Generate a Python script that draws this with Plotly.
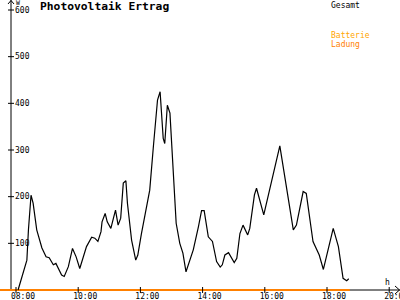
import plotly.graph_objects as go

# ---- data ----
times = ["08:04","08:21","08:24","08:29","08:33","08:40","08:50","08:58","09:04","09:12",
         "09:17","09:28","09:33","09:41","09:49","09:56","10:03","10:08","10:16","10:26",
         "10:32","10:38","10:44","10:46","10:52","10:56","11:03","11:08","11:12","11:17",
         "11:22","11:27","11:32","11:35","11:43","11:51","11:55","12:02","12:09","12:18",
         "12:25","12:33","12:38","12:41","12:44","12:47","12:52","12:57","13:03","13:09",
         "13:16","13:22","13:28","13:36","13:42","13:52","13:58","14:03","14:11","14:19",
         "14:27","14:34","14:38","14:43","14:50","15:01","15:06","15:12","15:18","15:27",
         "15:31","15:40","15:44","15:58","16:29","16:55","17:01","17:14","17:20","17:33",
         "17:40","17:45","17:53","18:02","18:12","18:22","18:31","18:38","18:42"]
gesamt = [0,64,129,203,186,129,90,71,69,54,
          57,32,29,50,89,71,46,64,93,113,
          111,104,125,146,164,146,132,154,171,139,
          154,229,234,186,107,64,75,121,164,214,
          307,407,425,371,325,314,396,379,271,143,
          100,79,39,64,86,136,170,170,114,104,
          61,49,54,75,80,59,68,121,139,118,
          132,204,218,161,309,129,139,211,207,104,
          89,75,44,86,132,93,25,20,24]
batt_times = ["07:29", "18:44"]
batt_values = [0, 0]

x_tick_hours = [8, 10, 12, 14, 16, 18, 20]
x_tick_text = ["08:00", "10:00", "12:00", "14:00", "16:00", "18:00", "20:00"]
y_ticks = [100, 200, 300, 400, 500, 600]

def hours(s):
    hh, mm = s.split(":")
    return int(hh) + int(mm) / 60.0

W, H = 400, 300
PX_PER_HOUR = 31.1
X0_PX = 16          # pixel of 08:00
Y0_PX = 290         # pixel of value 0
PX_PER_UNIT = 280 / 600
AXIS_X_PX = 11

xmin = 8 - X0_PX / PX_PER_HOUR
xmax = 8 + (W - X0_PX) / PX_PER_HOUR
ymin = -(H - Y0_PX) / PX_PER_UNIT
ymax = Y0_PX / PX_PER_UNIT
y_axis_x = 8 + (AXIS_X_PX - X0_PX) / PX_PER_HOUR

MONO = "DejaVu Sans Mono"
ORANGE = "#ff8000"

fig = go.Figure()
fig.add_trace(go.Scatter(x=[hours(t) for t in batt_times], y=batt_values, mode="lines",
                         line=dict(color=ORANGE, width=2), name="Batterie Ladung",
                         showlegend=False))
fig.add_trace(go.Scatter(x=[hours(t) for t in times], y=gesamt, mode="lines",
                         line=dict(color="black", width=1.2), name="Gesamt",
                         showlegend=False))

shapes = []
# axis lines
shapes.append(dict(type="line", xref="x", yref="y", x0=y_axis_x, x1=y_axis_x, y0=0, y1=ymax,
                   line=dict(color="black", width=1), layer="below"))
shapes.append(dict(type="line", xref="x", yref="y", x0=y_axis_x, x1=xmax, y0=0, y1=0,
                   line=dict(color="black", width=1), layer="below"))
# cross tick marks
for hv in x_tick_hours:
    shapes.append(dict(type="line", xref="x", yref="y", ysizemode="pixel", yanchor=0,
                       x0=hv, x1=hv, y0=-3, y1=3, line=dict(color="black", width=1)))
for yv in y_ticks:
    shapes.append(dict(type="line", xref="x", yref="y", xsizemode="pixel", xanchor=y_axis_x,
                       x0=-3, x1=3, y0=yv, y1=yv, line=dict(color="black", width=1)))

def px(xp, yp):
    return f"{xp / W:.5f},{1 - yp / H:.5f}"

# arrow heads
shapes.append(dict(type="path", xref="paper", yref="paper",
                   path=f"M{px(AXIS_X_PX - 3, 4)} L{px(AXIS_X_PX, 0.5)} L{px(AXIS_X_PX + 3, 4)}",
                   line=dict(color="black", width=1)))
shapes.append(dict(type="path", xref="paper", yref="paper",
                   path=f"M{px(395, Y0_PX - 4)} L{px(399.5, Y0_PX)} L{px(395, Y0_PX + 4)}",
                   line=dict(color="black", width=1)))

annotations = [
    dict(text="<b>Photovoltaik Ertrag</b>", xref="paper", yref="paper", x=38 / W, y=1 - 7 / H,
         xanchor="left", yanchor="middle", showarrow=False,
         font=dict(family=MONO, size=11.3, color="black")),
    dict(text="W", xref="paper", yref="paper", x=14 / W, y=1 - 3 / H,
         xanchor="left", yanchor="middle", showarrow=False,
         font=dict(family=MONO, size=6.5, color="black")),
    dict(text="Gesamt", xref="paper", yref="paper", x=329 / W, y=1 - 5 / H,
         xanchor="left", yanchor="middle", showarrow=False,
         font=dict(family=MONO, size=8, color="black")),
    dict(text="Batterie", xref="paper", yref="paper", x=329 / W, y=1 - 35.5 / H,
         xanchor="left", yanchor="middle", showarrow=False,
         font=dict(family=MONO, size=8, color="#ffa500")),
    dict(text="Ladung", xref="paper", yref="paper", x=329 / W, y=1 - 44 / H,
         xanchor="left", yanchor="middle", showarrow=False,
         font=dict(family=MONO, size=8, color=ORANGE)),
    dict(text="h", xref="paper", yref="paper", x=387 / W, y=1 - 282 / H,
         xanchor="center", yanchor="middle", showarrow=False,
         font=dict(family=MONO, size=8, color="black")),
]

fig.update_layout(
    width=W, height=H, margin=dict(l=0, r=0, t=0, b=0, autoexpand=False),
    paper_bgcolor="white", plot_bgcolor="white",
    showlegend=False, shapes=shapes, annotations=annotations,
    xaxis=dict(range=[xmin, xmax], tickvals=x_tick_hours, ticktext=x_tick_text,
               showgrid=False, zeroline=False, showline=False, ticks="",
               anchor="free", position=(H - Y0_PX) / H, ticklabelshift=7,
               ticklabelstandoff=0, ticklabeloverflow="allow", automargin=False,
               tickfont=dict(family=MONO, size=8, color="black")),
    yaxis=dict(range=[ymin, ymax], tickvals=y_ticks, ticktext=[str(v) for v in y_ticks],
               showgrid=False, zeroline=False, showline=False, ticks="",
               anchor="free", position=AXIS_X_PX / W, ticklabelposition="inside",
               ticklabeloverflow="allow", automargin=False,
               tickfont=dict(family=MONO, size=8, color="black")),
)

fig.write_html("out.html")
